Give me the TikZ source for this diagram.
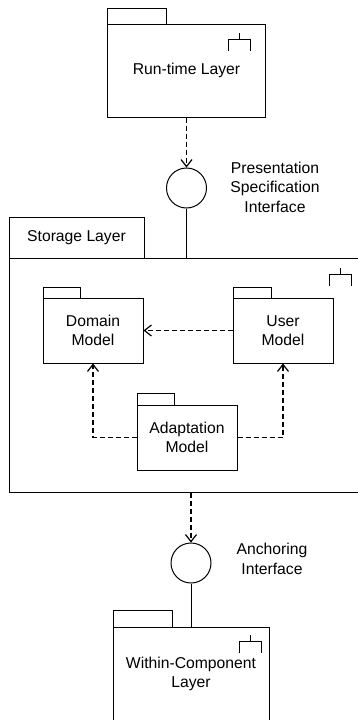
\documentclass[tikz,border=0pt]{standalone}
\usepackage{fontspec}
\setmainfont{Liberation Sans}
\usetikzlibrary{arrows.meta}
\tikzset{
  pkg/.style={draw,line width=1pt,align=center,inner sep=0pt},
  tab/.style={draw,line width=1pt},
  iface/.style={draw,circle,line width=1pt,minimum size=40pt,inner sep=0pt},
  dep/.style={line width=1.5pt,dash pattern=on 5pt off 3pt,-{Straight Barb[length=7pt,width=11pt,line width=1.2pt]}},
  layericon/.pic={
    \draw[line width=1pt] (-11,12)--(-11,0)--(11,0)--(11,12);
    \draw[line width=1pt] (0,0)--(0,-6);
  }
}
\begin{document}
\begin{tikzpicture}[x=1pt,y=-1pt,font=\fontsize{15.7}{19.5}\selectfont]
            \useasboundingbox (0,0) rectangle (358,720);
            \clip (0,0) rectangle (358,720);
            % run-time layer
            \draw[tab] (107,8) rectangle (166,24);
            \node[pkg,minimum width=158pt,minimum height=93pt] (rt) at (186.5,70.5) {Run-time Layer};
            \pic at (239.5,39) {layericon};
            \node[iface] (pi) at (186.5,188) {};
            \node[align=center] (pitext) at (275,187) {Presentation\\Specification\\Interface};
            % storage layer
            \node[pkg,minimum width=353pt,minimum height=234pt] (st) at (185.5,375) {};
            \node[tab,minimum width=135pt,minimum height=41pt,inner sep=0pt] (sttab) at (76.5,237.5) {Storage Layer};
            \pic at (340,274) {layericon};
            \draw[tab] (43,287) rectangle (80,298);
            \node[pkg,minimum width=100pt,minimum height=65pt] (dm) at (93,330.5) {Domain\\Model};
            \draw[tab] (233,287) rectangle (271,298);
            \node[pkg,minimum width=100pt,minimum height=65pt] (um) at (283,330.5) {User\\Model};
            \draw[tab] (137,393) rectangle (174,405);
            \node[pkg,minimum width=100pt,minimum height=65pt] (am) at (187,437.5) {Adaptation\\Model};
            % within-component layer
            \node[iface] (ai) at (191,563) {};
            \node[align=center] (aitext) at (272,559) {Anchoring\\Interface};
            \draw[tab] (113,610) rectangle (172,627);
            \node[pkg,minimum width=156pt,minimum height=94pt] (wc) at (191,674) {Within-Component\\Layer};
            \pic at (250,641) {layericon};
            % connectors
            \draw[dep] (rt.south) -- (pi.north);
            \draw[line width=1pt] (pi.south) -- (pi.south |- st.north);
            \draw[dep] (um.west) -- (dm.east);
            \draw[dep] (am.west) -| (dm.south);
            \draw[dep] (am.east) -| (um.south);
            \draw[dep] (st.south -| ai.north) -- (ai.north);
            \draw[line width=1pt] (ai.south) -- (ai.south |- wc.north);
        \end{tikzpicture}
\end{document}
